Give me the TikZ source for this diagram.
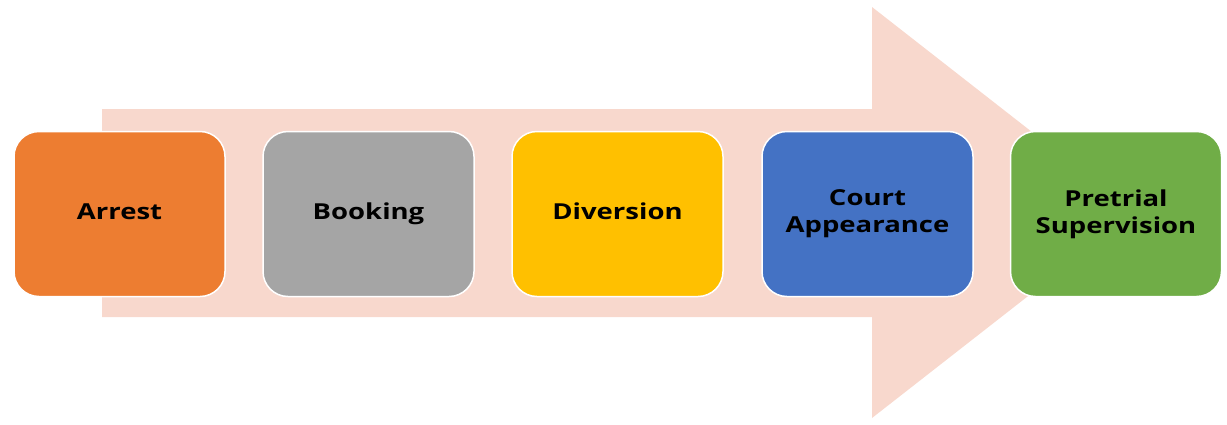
\documentclass[tikz,border=0pt]{standalone}
\usepackage{fontspec}
\setmainfont{Open Sans}[FakeStretch=1.25]
\definecolor{arrowbg}{HTML}{F8D8CD}
\definecolor{c1}{HTML}{ED7D31}
\definecolor{c2}{HTML}{A5A5A5}
\definecolor{c3}{HTML}{FFC000}
\definecolor{c4}{HTML}{4472C4}
\definecolor{c5}{HTML}{70AD47}
\newcommand{\lineph}{\vphantom{Apg}}
\begin{document}
\begin{tikzpicture}[x=1pt,y=-1pt,
  stage/.style={draw=white, line width=1.5pt, rounded corners=25pt, minimum width=211pt, minimum height=165pt,
    inner sep=0pt, align=center, font=\fontsize{22}{27}\selectfont\bfseries, text=black}]
\useasboundingbox (0,0) rectangle (1227,424);
\fill[arrowbg] (102,109) -- (872,109) -- (872,7) -- (1135,212.5) -- (872,418) -- (872,317) -- (102,317) -- cycle;
\node[stage, fill=c1] (arrest) at (119.5,214) {\lineph Arrest};
\node[stage, fill=c2] (booking) at (368.5,214) {\lineph Booking};
\node[stage, fill=c3] (diversion) at (617.5,214) {\lineph Diversion};
\node[stage, fill=c4] (court) at (867.5,214) {Court\\Appearance};
\node[stage, fill=c5] (pretrial) at (1116,214) {Pretrial\\Supervision};
\end{tikzpicture}
\end{document}
